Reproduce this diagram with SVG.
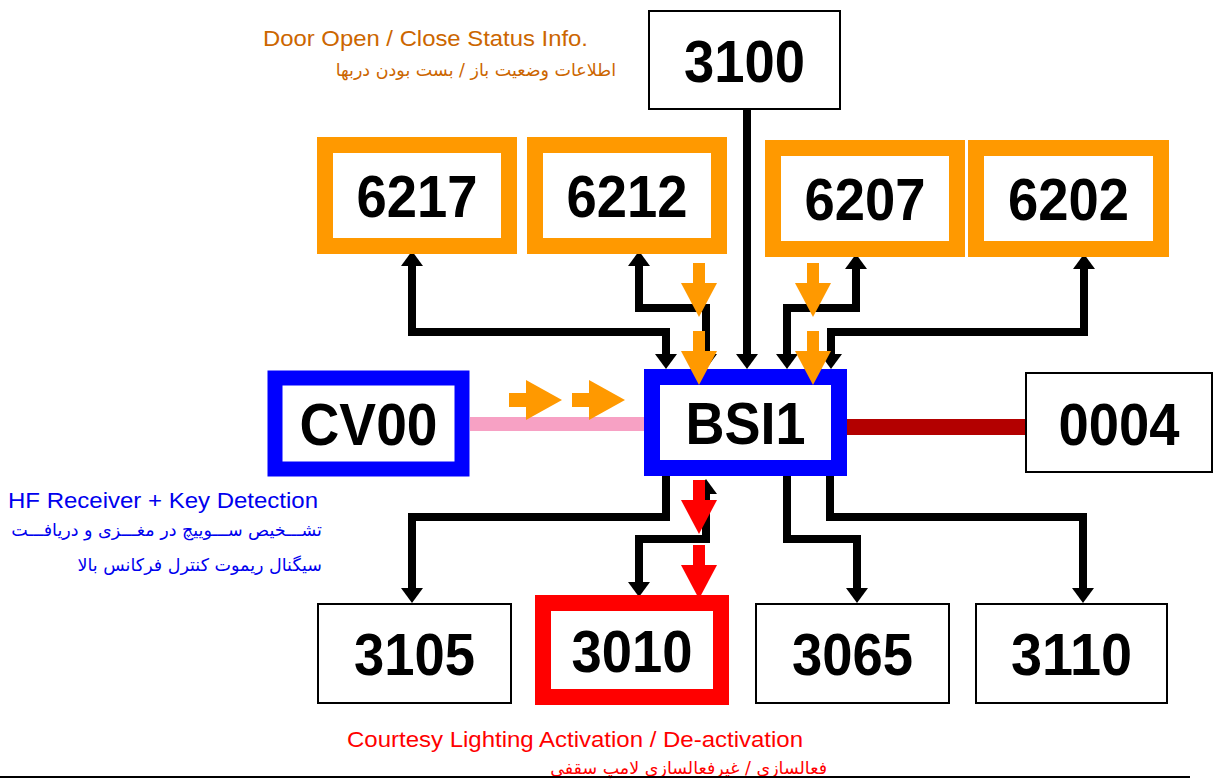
<svg xmlns="http://www.w3.org/2000/svg" xmlns:xlink="http://www.w3.org/1999/xlink" width="1216" height="780" viewBox="0 0 1216 780">
<style>
.num{font-family:"Liberation Sans",Arial,sans-serif;font-weight:bold;font-size:60px;fill:#000;text-anchor:middle}
.bx{fill:#fff;stroke:#000;stroke-width:2}
.ob{fill:#fff;stroke:#ff9900;stroke-width:16}
.bb{fill:#fff;stroke:#0000ff;stroke-width:16}
.rb{fill:#fff;stroke:#ff0000;stroke-width:16}
.con{fill:none;stroke:#000;stroke-width:8;stroke-linejoin:miter}
.sa{marker-start:url(#ah)}
.ea{marker-end:url(#ah)}
.lat{font-family:"Liberation Sans",Arial,sans-serif;font-size:22px}
.fa{font-family:"DejaVu Sans",sans-serif;font-size:17.5px;text-anchor:end}
</style>
<defs>
<marker id="ah" markerUnits="userSpaceOnUse" viewBox="0 0 15 22" refX="0" refY="11" markerWidth="15" markerHeight="22" orient="auto-start-reverse">
<path d="M0 0 L15 11 L0 22 Z" fill="#000"/>
</marker>
<g id="varrow"><rect x="-6" y="-54" width="12" height="21"/><polygon points="-18,-34 18,-34 0,0"/></g>
<g id="harrow"><rect x="-53" y="-7" width="18" height="14"/><polygon points="-36,-20 -36,20 0,0"/></g>
</defs>

<g id="labels">
<text class="lat" x="263" y="46" fill="#cc6600" textLength="325" lengthAdjust="spacingAndGlyphs">Door Open / Close Status Info.</text>
<text class="fa" x="616" y="76" fill="#cc6600">اطلاعات وضعیت باز / بست بودن دربها</text>
<text class="lat" x="8" y="508" fill="#0000ee" textLength="310" lengthAdjust="spacingAndGlyphs">HF Receiver + Key Detection</text>
<text class="fa" x="322" y="536" fill="#0000ee">تشـــخیص ســـوییچ در مغـــزی و دریافـــت</text>
<text class="fa" x="322" y="571" fill="#0000ee">سیگنال ریموت کنترل فرکانس بالا</text>
<text class="lat" x="347" y="747" fill="#ff0000" textLength="456" lengthAdjust="spacingAndGlyphs">Courtesy Lighting Activation / De-activation</text>
<text class="fa" x="827" y="774" fill="#ff0000">فعالسازی / غیرفعالسازی لامپ سقفی</text>
</g>

<g id="connectors">
<line x1="470" y1="424" x2="644" y2="424" stroke="#f7a1c4" stroke-width="14"/>
<line x1="847" y1="427" x2="1026" y2="427" stroke="#b30000" stroke-width="16"/>
<path class="con sa ea" d="M412 266 V332 H666 V354"/>
<path class="con sa ea" d="M639 266 V308 H706 V354"/>
<path class="con ea" d="M747 110 V354"/>
<path class="con sa ea" d="M856 269 V308 H787 V354"/>
<path class="con sa ea" d="M1084 269 V332 H831 V354"/>
<path class="con ea" d="M666 476 V517 H412 V588"/>
<path class="con sa ea" d="M706 494 V539 H639 V582"/>
<path class="con ea" d="M787 476 V539 H857 V588"/>
<path class="con ea" d="M830 476 V517 H1083 V588"/>
</g>

<g id="n3100"><rect class="bx" x="649" y="11" width="191" height="98"/><text class="num" x="744.5" y="82" textLength="121" lengthAdjust="spacingAndGlyphs">3100</text></g>
<g id="n6217"><rect class="ob" x="325" y="145" width="184" height="101"/><text class="num" x="417" y="217" textLength="121" lengthAdjust="spacingAndGlyphs">6217</text></g>
<g id="n6212"><rect class="ob" x="535" y="145" width="184" height="101"/><text class="num" x="627" y="217" textLength="121" lengthAdjust="spacingAndGlyphs">6212</text></g>
<g id="n6207"><rect class="ob" x="773" y="148" width="184" height="101"/><text class="num" x="865" y="220" textLength="121" lengthAdjust="spacingAndGlyphs">6207</text></g>
<g id="n6202"><rect class="ob" x="976" y="148" width="185" height="101"/><text class="num" x="1068.5" y="220" textLength="121" lengthAdjust="spacingAndGlyphs">6202</text></g>
<g id="nCV00"><rect class="bb" x="275" y="378" width="187" height="91" style="stroke-width:15"/><text class="num" x="368.5" y="445" textLength="138" lengthAdjust="spacingAndGlyphs">CV00</text></g>
<g id="nBSI1"><rect class="bb" x="652" y="377" width="187" height="91"/><text class="num" x="745.5" y="444" textLength="120" lengthAdjust="spacingAndGlyphs">BSI1</text></g>
<g id="n0004"><rect class="bx" x="1026" y="373" width="186" height="99"/><text class="num" x="1119" y="445" textLength="121" lengthAdjust="spacingAndGlyphs">0004</text></g>
<g id="n3105"><rect class="bx" x="318" y="604" width="193" height="99"/><text class="num" x="414.5" y="675" textLength="121" lengthAdjust="spacingAndGlyphs">3105</text></g>
<g id="n3010"><rect class="rb" x="543" y="603" width="178" height="94"/><text class="num" x="632" y="672" textLength="121" lengthAdjust="spacingAndGlyphs">3010</text></g>
<g id="n3065"><rect class="bx" x="756" y="604" width="193" height="99"/><text class="num" x="852.5" y="675" textLength="121" lengthAdjust="spacingAndGlyphs">3065</text></g>
<g id="n3110"><rect class="bx" x="976" y="604" width="191" height="99"/><text class="num" x="1071.5" y="675" textLength="121" lengthAdjust="spacingAndGlyphs">3110</text></g>

<g id="flow-arrows">
<use xlink:href="#varrow" x="699" y="317" fill="#ff9900"/>
<use xlink:href="#varrow" x="699" y="385" fill="#ff9900"/>
<use xlink:href="#varrow" x="813" y="317" fill="#ff9900"/>
<use xlink:href="#varrow" x="813" y="385" fill="#ff9900"/>
<use xlink:href="#harrow" x="562" y="400" fill="#ff9900"/>
<use xlink:href="#harrow" x="625" y="400" fill="#ff9900"/>
<use xlink:href="#varrow" x="699" y="534" fill="#ff0000"/>
<use xlink:href="#varrow" x="699" y="599" fill="#ff0000"/>
</g>

<line x1="0" y1="777" x2="1190" y2="777" stroke="#000" stroke-width="2"/>
</svg>
